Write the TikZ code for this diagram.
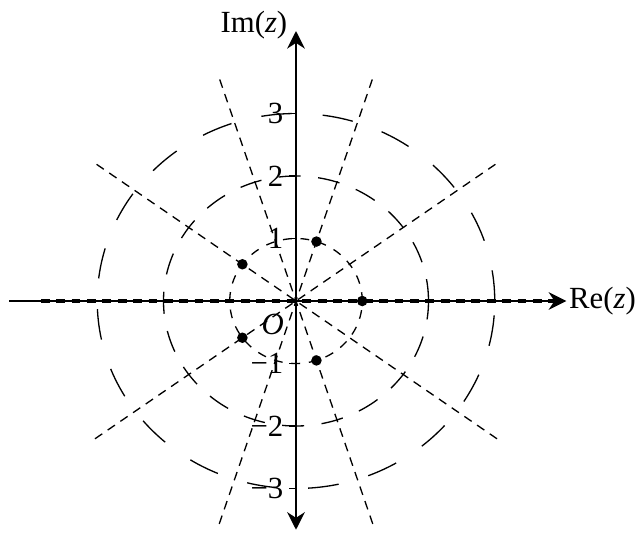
\documentclass[tikz,border=0pt]{standalone}
\usepackage{fontspec}
\setmainfont{Liberation Serif}
\usetikzlibrary{arrows.meta}
\tikzset{
	axis/.style={line width=1.2pt},
	tip/.style={-{Stealth[length=8pt,width=8pt]}},
	ray/.style={line width=0.6pt, dash pattern=on 4pt off 3pt},
	ringA/.style={line width=0.6pt, dash pattern=on 4pt off 4pt},
	ringB/.style={line width=0.6pt, dash pattern=on 10pt off 8pt},
	ringC/.style={line width=0.6pt, dash pattern=on 14pt off 14pt},
	root/.style={circle, fill, inner sep=0pt, minimum size=4.8pt}
}
\begin{document}
\begin{tikzpicture}[x=1.06cm, y=1cm, font=\fontsize{14}{16}\selectfont]
	\useasboundingbox (-4.736cm,-3.712cm) rectangle (5.472cm,4.816cm);
	\coordinate(O) at (0,0);
	\coordinate(W) at (-4.33,0);
	\coordinate(E) at (4.08,0);
	\coordinate(S) at (0,-3.66);
	\coordinate(N) at (0,4.32);
	\coordinate(D1) at (-3.85,0);
	\coordinate(D2) at (3.9,0);
	
	\draw[ringA] (O) ellipse [x radius=1.06cm, y radius=1cm];
	\draw[ringB] (O) ellipse [x radius=2.12cm, y radius=2cm];
	\draw[ringC] (O) ellipse [x radius=3.18cm, y radius=3cm];
	
	\foreach \a in {36,72,108,144}{
		\coordinate(A\a) at (\a:3.75);
		\coordinate(B\a) at (\a+180:3.75);
		\draw[ray] (B\a)--(A\a);
	}
	
	\draw[axis,tip] (W)--(E);
	\draw[axis,{Stealth[length=8pt,width=8pt]}-{Stealth[length=8pt,width=8pt]}] (S)--(N);
	\draw[ray,line width=1.4pt] (D1)--(D2);
	
	\foreach \y/\t in {1/1,2/2,3/3,-1/−1,-2/−2,-3/−3}
		\draw[line width=0.8pt] (0,\y) -- ++(-0.12cm,0) node[left,inner sep=2pt](T\t){\t};
	
	\foreach \a in {0,72,...,288}
		\node[root](z\a) at (\a:1){};
	
	\node[anchor=west,inner sep=0.5pt](Re) at (4.1,0){Re(\textit{z})};
	\node(Im) at (-0.635,4.42){Im(\textit{z})};
	\node(Olab) at (-0.35,-0.38){\textit{O}};
\end{tikzpicture}
\end{document}
